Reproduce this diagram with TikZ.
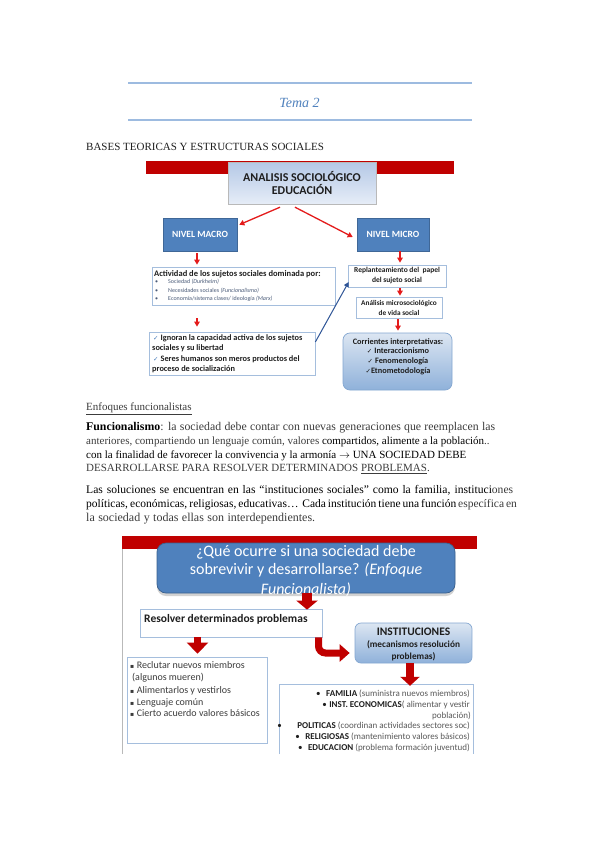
\documentclass[tikz,border=0pt]{standalone}
\usepackage{fontspec}
\setmainfont{Liberation Serif}
\newfontfamily\calib{Carlito}
\newfontfamily\djv{DejaVu Sans}
\usetikzlibrary{arrows.meta,calc,shadows}
\definecolor{redbar}{HTML}{C00000}
\definecolor{boxblue}{HTML}{4F81BD}
\definecolor{arrred}{HTML}{E41B1B}
\definecolor{lineblue}{HTML}{9DBBE0}
\definecolor{temablue}{HTML}{4F81BD}
\definecolor{bordblue}{HTML}{A5BEDD}
\definecolor{txtg}{HTML}{3C3C3C}
\definecolor{darktx}{HTML}{1E1E1E}
\definecolor{arrblue}{HTML}{2F5597}
\definecolor{bultx}{HTML}{4A5B78}
\definecolor{gradtop}{HTML}{DCE6F2}
\definecolor{gradbot}{HTML}{8FB1DA}
\definecolor{partx}{HTML}{595959}
\definecolor{ttop}{HTML}{B4C8E6}
\definecolor{tbot}{HTML}{E6EDF7}
\begin{document}
\begin{tikzpicture}[x=1pt,y=-1pt,
  wbox/.style={draw=bordblue, fill=white, line width=0.7pt, inner sep=0pt},
  bluebox/.style={draw=boxblue!80!black, fill=boxblue, line width=0.6pt, inner sep=0pt, text=white, font=\calib\bfseries\fontsize{9.5}{11}\selectfont},
  gradbox/.style={draw=boxblue!70, top color=gradtop, bottom color=gradbot, rounded corners=7pt, line width=0.7pt, inner sep=0pt},
  smallarr/.style={draw=arrred, line width=1.3pt, -{Triangle[width=5.5pt,length=5pt]}},
  bigarr/.style={draw=redbar},
  txt/.style={inner sep=0pt, anchor=base west},
  ctxt/.style={inner sep=0pt, anchor=base},
  body/.style={inner sep=0pt, anchor=base west, text=txtg},
  listtx/.style={inner sep=0pt, anchor=base west, font=\calib\fontsize{10}{12}\selectfont, text=txtg},
  insttx/.style={inner sep=0pt, anchor=base east, font=\calib\fontsize{9}{11}\selectfont, text=partx},
  igntx/.style={inner sep=0pt, anchor=base west, font=\calib\bfseries\fontsize{8.3}{10}\selectfont, text=darktx},
  cortx/.style={inner sep=0pt, anchor=base, font=\calib\bfseries\fontsize{8.3}{10}\selectfont, text=darktx},
  bultxt/.style={inner sep=0pt, anchor=base west, font=\calib\fontsize{6}{7}\selectfont, text=bultx}
]
\fill[white] (0,0) rectangle (599,848);
\useasboundingbox (0,0) rectangle (599,848);

% header
\draw[lineblue, line width=1.3pt] (128,83) -- (472,83);
\draw[lineblue, line width=1.3pt] (128,120) -- (472,120);
\node[inner sep=0pt, text=temablue, font=\itshape\fontsize{14}{16}\selectfont] (tema) at (299.5,102.5) {Tema 2};
\node[txt, font=\fontsize{11}{13}\selectfont, text=darktx] (bases) at (86,150.5) {BASES TEORICAS Y ESTRUCTURAS SOCIALES};

% diagram 1
\fill[redbar] (146,161) rectangle (454,174);
\node[draw=gray!55, top color=ttop, bottom color=tbot, minimum width=148pt, minimum height=42pt, inner sep=0pt, align=center, font=\calib\bfseries\fontsize{12}{13.5}\selectfont, text=darktx] (title1) at (302,183) {ANALISIS SOCIOLÓGICO\\EDUCACIÓN};
\node[bluebox, minimum width=74pt, minimum height=33pt] (macro) at (200,234.5) {NIVEL MACRO};
\node[bluebox, minimum width=72pt, minimum height=33pt] (micro) at (393,234.5) {NIVEL MICRO};
\node[wbox, minimum width=183pt, minimum height=38pt] (act) at (243.5,286) {};
\node[wbox, minimum width=166pt, minimum height=43pt, drop shadow={opacity=0.15, shadow xshift=1pt, shadow yshift=-1pt}] (ign) at (232,353.5) {};
\node[wbox, minimum width=98pt, minimum height=22pt, align=center, font=\calib\bfseries\fontsize{7.5}{10}\selectfont, text=darktx] (rep) at (397,276) {Replanteamiento del\ \ papel\\del sujeto social};
\node[wbox, minimum width=86pt, minimum height=21pt, align=center, font=\calib\bfseries\fontsize{7.3}{10}\selectfont, text=darktx] (ana) at (399,307.5) {Análisis microsociológico\\de vida social};
\node[gradbox, minimum width=109pt, minimum height=57pt] (cor) at (397.5,361.5) {};

\draw[smallarr] ($(macro.south)+(-3,2)$) -- ($(macro.south |- act.north)+(-3,-2)$);
\draw[smallarr] ($(act.south)+(-46.5,13)$) -- ($(act.south |- ign.north)+(-46.5,-5)$);
\draw[smallarr] ($(micro.south)+(7,0)$) -- ($(micro.south |- rep.north)+(7,-2)$);
\draw[smallarr] ($(rep.south)+(3,1)$) -- ($(rep.south |- ana.north)+(3,-1)$);
\draw[smallarr] ($(ana.south)+(-1,1)$) -- ($(ana.south |- cor.north)+(-1,-2)$);
\draw[smallarr] ($(title1.south)+(-22,3)$) -- ($(macro.north east)+(2,7)$);
\draw[smallarr] ($(title1.south)+(-7,3)$) -- ($(micro.west)+(-4,2.5)$);
\draw[draw=arrblue, line width=1pt, -{Triangle[width=5pt,length=5pt]}] ($(ign.east)+(0,-11.5)$) -- ($(rep.west)+(1,6)$);

\node[txt, font=\calib\bfseries\fontsize{8.5}{10}\selectfont, text=darktx] (actt) at (154,276) {Actividad de los sujetos sociales dominada por:};
\node[bultxt] (b1) at (155,283.8) {\makebox[13pt][l]{•}Sociedad \textit{(Durkheim)}};
\node[bultxt] (b2) at (155,292.3) {\makebox[13pt][l]{•}Necesidades sociales \textit{(Funcionalismo)}};
\node[bultxt] (b3) at (155,300.8) {\makebox[13pt][l]{•}Economía/sistema clases/ ideología \textit{(Marx)}};

\node[igntx] (i1) at (153,340) {\textcolor{boxblue}{\djv\mdseries\fontsize{6.5}{8}\selectfont ✓}\hspace{2pt}Ignoran la capacidad activa de los sujetos};
\node[igntx] (i2) at (152,350) {sociales y su libertad};
\node[igntx] (i3) at (153,361) {\textcolor{boxblue}{\djv\mdseries\fontsize{6.5}{8}\selectfont ✓}\hspace{2pt}Seres humanos son meros productos del};
\node[igntx] (i4) at (152,371) {proceso de socialización};

\node[cortx] (c1) at (398,344.8) {Corrientes interpretativas:};
\node[cortx] (c2) at (398,353.8) {{\djv\mdseries\fontsize{6.5}{8}\selectfont ✓}\hspace{2pt}Interaccionismo};
\node[cortx] (c3) at (398,363.8) {{\djv\mdseries\fontsize{6.5}{8}\selectfont ✓}\hspace{2pt}Fenomenología};
\node[cortx] (c4) at (398,373.8) {{\djv\mdseries\fontsize{6.5}{8}\selectfont ✓}Etnometodología};

% body text
\node[body, font=\fontsize{11}{13}\selectfont] (enf) at (86,410.5) {\underline{Enfoques funcionalistas}};
\node[body, font=\fontsize{11.8}{13}\selectfont] (l1) at (86,430) {\makebox[409pt][s]{\textcolor{black}{\textbf{Funcionalismo}}: la sociedad debe contar con nuevas generaciones que reemplacen las}};
\node[body, font=\fontsize{11}{13}\selectfont] (l2) at (86,444) {anteriores, compartiendo un lenguaje común, valores \textcolor{black}{compartidos, alimente a la población}..};
\node[body, font=\fontsize{11}{13}\selectfont] (l3) at (86,458) {\textcolor{black}{con la finalidad de favorecer la convivencia y la armonía $\rightarrow$ UNA SOCIEDAD DEBE}};
\node[body, font=\fontsize{11}{13}\selectfont] (l4) at (86,471.5) {DESARROLLARSE PARA RESOLVER DETERMINADOS \underline{PROBLEMAS}.};
\node[body, font=\fontsize{11.6}{13}\selectfont] (l5) at (86,493.5) {\makebox[427pt][s]{\textcolor{black}{Las soluciones se encuentran en las “instituciones sociales” como la familia, instituci}ones}};
\node[body, font=\fontsize{11.5}{13}\selectfont] (l6) at (86,507.5) {\makebox[429pt][s]{\textcolor{black}{políticas, económicas, religiosas, educativas…\ \ Cada institución tiene una función} específica en}};
\node[body, font=\fontsize{12}{13}\selectfont] (l7) at (86,521.5) {\makebox[229pt][s]{la sociedad y todas ellas son interdependientes.}};

% diagram 2
\fill[redbar] (122,536) rectangle (477,549);
\draw[gray!55, line width=0.8pt] (122,549) -- (122,754);
\node[draw=boxblue!75!black, fill=boxblue, rounded corners=9pt, minimum width=298pt, minimum height=50pt, line width=0.7pt, drop shadow={opacity=0.35, shadow xshift=0pt, shadow yshift=-3pt}] (title2) at (306,568) {};
\node[ctxt, font=\calib\fontsize{16}{19}\selectfont, text=white] (t1) at (306,556) {¿Qué ocurre si una sociedad debe};
\node[ctxt, font=\calib\fontsize{16}{19}\selectfont, text=white] (t2) at (306,574.5) {sobrevivir y desarrollarse? \textit{(Enfoque}};
\node[ctxt, font=\calib\fontsize{16}{19}\selectfont, text=white] (t3) at (306,594) {\textit{Funcionalista)}};

\node[draw=bordblue, fill=white, line width=0.8pt, minimum width=182pt, minimum height=28pt, inner sep=0pt] (res) at (231,623) {};
\node[txt, font=\calib\bfseries\fontsize{11.5}{13}\selectfont, text=darktx] (rest) at (144,622.5) {Resolver determinados problemas};

\node[gradbox, rounded corners=6pt, minimum width=117pt, minimum height=40pt] (inst) at (413.5,643) {};
\node[ctxt, font=\calib\bfseries\fontsize{11.5}{13}\selectfont, text=darktx] (in1) at (413.5,635.7) {INSTITUCIONES};
\node[ctxt, font=\calib\bfseries\fontsize{9.3}{11}\selectfont, text=darktx] (in2) at (413.5,647.8) {(mecanismos resolución};
\node[ctxt, font=\calib\bfseries\fontsize{9.3}{11}\selectfont, text=darktx] (in3) at (413.5,659.8) {problemas)};

\node[draw=bordblue, fill=white, line width=0.8pt, minimum width=140pt, minimum height=86pt, inner sep=0pt] (lst) at (197,700) {};
\node[listtx] (r1) at (130,668) {{\djv\fontsize{6}{6}\selectfont ▪}\hspace{2.5pt}Reclutar nuevos miembros};
\node[listtx] (r2) at (132,680) {(algunos mueren)};
\node[listtx] (r3) at (130,693) {{\djv\fontsize{6}{6}\selectfont ▪}\hspace{2.5pt}Alimentarlos y vestirlos};
\node[listtx] (r4) at (130,705) {{\djv\fontsize{6}{6}\selectfont ▪}\hspace{2.5pt}Lenguaje común};
\node[listtx] (r5) at (130,716) {{\djv\fontsize{6}{6}\selectfont ▪}\hspace{2.5pt}Cierto acuerdo valores básicos};

\node[minimum width=193pt, minimum height=69pt, inner sep=0pt] (ins) at (376.5,719.5) {};
\draw[bordblue, line width=0.8pt] (ins.south west) -- (ins.north west) -- (ins.north east) -- (ins.south east);
\node[insttx] (e1) at (470,696.7) {\textcolor{darktx}{•}\hspace{5.5pt}\textcolor{darktx}{\bfseries FAMILIA} (suministra nuevos miembros)};
\node[insttx] (e2) at (470,707.7) {\textcolor{darktx}{•}\hspace{2.5pt}\textcolor{darktx}{\bfseries INST. ECONOMICAS}( alimentar y vestir};
\node[insttx] (e3) at (471,718.2) {población)};
\node[insttx] (e4) at (470,728.7) {\textcolor{darktx}{•}\hspace{15.5pt}\textcolor{darktx}{\bfseries POLITICAS} (coordinan actividades sectores soc)};
\node[insttx] (e5) at (470,739.7) {\textcolor{darktx}{•}\hspace{5.5pt}\textcolor{darktx}{\bfseries RELIGIOSAS} (mantenimiento valores básicos)};
\node[insttx] (e6) at (470,750.7) {\textcolor{darktx}{•}\hspace{5.5pt}\textcolor{darktx}{\bfseries EDUCACION} (problema formación juventud)};

\draw[bigarr, line width=10pt, -{Triangle[width=21pt,length=9pt]}] ($(title2.south)+(1,0)$) -- ($(title2.south |- res.north)+(1,1)$);
\draw[bigarr, line width=7pt, -{Triangle[width=21pt,length=11pt]}] ($(res.south)+(-33.5,0)$) -- ($(res.south |- lst.north)+(-33.5,-3)$);
\draw[bigarr, line width=7pt, rounded corners=7pt, -{Triangle[width=17pt,length=10pt]}] ($(res.south)+(87.5,0)$) |- ($(inst.west)+(-5,10)$);
\draw[bigarr, line width=8pt, -{Triangle[width=19pt,length=9pt]}] ($(inst.south)+(-3.5,0)$) -- ($(inst.south |- ins.north)+(-3.5,1)$);
\end{tikzpicture}
\end{document}
